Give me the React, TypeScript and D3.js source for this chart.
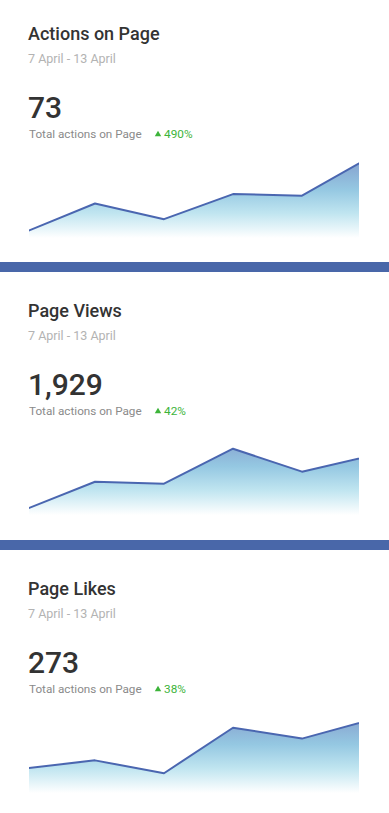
import * as d3 from 'd3';
import React, { useEffect } from 'react';

const titles = ['Actions on Page', 'Page Views', 'Page Likes'];
const dateRange = '7 April - 13 April';
const totals = ['73', '1,929', '273'];
const subtitle = 'Total actions on Page';
const changes = ['490%', '42%', '38%'];
const days = ['7 Apr', '8 Apr', '9 Apr', '10 Apr', '11 Apr', '12 Apr'];
const actionsSeries = [2, 11, 6, 14, 13.5, 26];
const viewsSeries = [47, 268, 252, 534, 349, 478];
const likesSeries = [25, 33, 20, 66, 55, 74];
const series = [actionsSeries, viewsSeries, likesSeries];
const yMax = [28.7, 725, 91];

const W = 389;
const H = 813;
const cardTop = [0, 277, 555];
const barTop = [262, 540];

const Card = ({ i }: { i: number }) => {
  const x = d3.scalePoint<number>().domain(d3.range(days.length)).range([26, 371]);
  const y = d3.scaleLinear().domain([0, yMax[i]]).range([238, 148]);
  const data = series[i];
  const area = d3.area<number>()
    .x((_, k) => x(k)!)
    .y0(238)
    .y1((d) => y(d));
  const line = d3.line<number>()
    .x((_, k) => x(k)!)
    .y((d) => y(d));
  const tri = d3.symbol().type(d3.symbolTriangle).size(18)();

  return (
    <g transform={`translate(0,${cardTop[i]})`}>
      <defs>
        <clipPath id={`clip${i}`}>
          <rect x={29} y={100} width={330} height={140} />
        </clipPath>
        <linearGradient id={`grad${i}`} gradientUnits="userSpaceOnUse" x1={0} y1={150} x2={0} y2={238}>
          <stop offset="0%" stopColor="#7f92c7" />
          <stop offset="45%" stopColor="#95c8e2" />
          <stop offset="72%" stopColor="#c0e5f0" />
          <stop offset="100%" stopColor="#ffffff" />
        </linearGradient>
      </defs>
      <text x={28} y={40} fontSize={18} fontWeight={500} fill="#333">{titles[i]}</text>
      <text x={28} y={63} fontSize={12.5} fill="#b3b3b3">{dateRange}</text>
      <text x={28} y={118} fontSize={30} fontWeight={500} fill="#333">{totals[i]}</text>
      <text x={29} y={138} fontSize={11.7} fill="#8a8a8a">{subtitle}</text>
      <path d={tri!} transform={`translate(158,134.4)`} fill="#3db43a" />
      <text x={164} y={138} fontSize={11.8} fill="#3db43a">{changes[i]}</text>
      <g clipPath={`url(#clip${i})`}>
        <path d={area(data)!} fill={`url(#grad${i})`} />
        <path d={line(data)!} fill="none" stroke="#4a66b0" strokeWidth={2} strokeLinejoin="round" />
      </g>
    </g>
  );
};

const App = () => {
  useEffect(() => {
    document.body.style.margin = '0';
  }, []);

  return (
    <svg width={W} height={H} style={{ display: 'block', fontFamily: 'Roboto, sans-serif' }}>
      <rect width={W} height={H} fill="#fff" />
      {barTop.map((t, k) => (
        <rect key={k} x={0} y={t} width={W} height={10} fill="#4967a9" />
      ))}
      {titles.map((_, i) => (
        <Card key={i} i={i} />
      ))}
    </svg>
  );
};

export default App;
